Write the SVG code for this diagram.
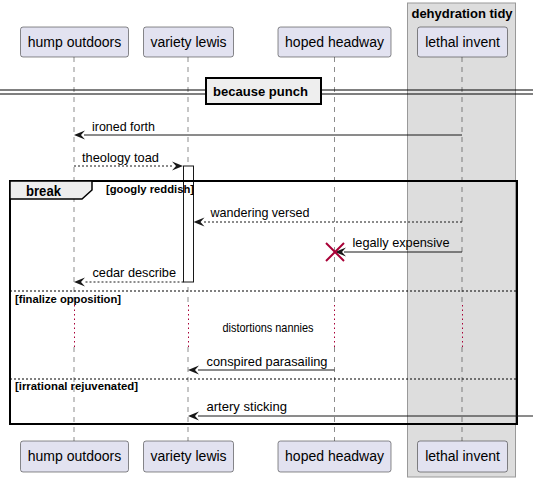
<svg xmlns="http://www.w3.org/2000/svg" width="533" height="482" viewBox="0 0 533 482">
<defs>
<style>
.part{fill:#E2E2F0;stroke:#181818;stroke-width:0.5;}
.plab{font-family:"Liberation Sans",Arial,sans-serif;font-size:14px;fill:#000;text-anchor:middle;}
.life{stroke:#181818;stroke-width:0.5;stroke-dasharray:5,5;fill:none;}
.dot{stroke:#A80036;stroke-width:1;stroke-dasharray:1.5,3;fill:none;}
.msg{stroke:#181818;stroke-width:1;fill:none;}
.dash{stroke:#181818;stroke-width:1;stroke-dasharray:2,2;fill:none;}
.mlab{font-family:"Liberation Sans",Arial,sans-serif;font-size:13px;fill:#000;}
.bold{font-family:"Liberation Sans",Arial,sans-serif;font-weight:bold;fill:#000;}
.sep{stroke:#000;stroke-width:1;stroke-dasharray:2,2;fill:none;}
.head{fill:#181818;}
</style>
</defs>

<g id="box-dehydration-tidy">
<rect x="407.5" y="3" width="108" height="474" fill="#DDDDDD" stroke="#999999" stroke-width="1"/>
<text class="bold" x="462" y="18" font-size="13" text-anchor="middle">dehydration tidy</text>
</g>

<g id="lifelines">
<line class="life" x1="74" y1="57" x2="74" y2="305"/>
<line class="life" x1="74" y1="347" x2="74" y2="441"/>
<line class="dot" x1="74.5" y1="305" x2="74.5" y2="347"/>
<line class="life" x1="188" y1="57" x2="188" y2="305"/>
<line class="life" x1="188" y1="347" x2="188" y2="441"/>
<line class="dot" x1="188.5" y1="305" x2="188.5" y2="347"/>
<line class="life" x1="334.5" y1="57" x2="334.5" y2="305"/>
<line class="life" x1="334.5" y1="347" x2="334.5" y2="441"/>
<line class="dot" x1="334.5" y1="305" x2="334.5" y2="347"/>
<line class="life" x1="462" y1="57" x2="462" y2="305"/>
<line class="life" x1="462" y1="347" x2="462" y2="441"/>
<line class="dot" x1="462.5" y1="305" x2="462.5" y2="347"/>
</g>

<g id="p-hump-outdoors">
<rect class="part" x="20.5" y="27" width="108" height="30" rx="2.5"/>
<text class="plab" x="74.5" y="47">hump outdoors</text>
<rect class="part" x="20.5" y="441" width="108" height="31" rx="2.5"/>
<text class="plab" x="74.5" y="461">hump outdoors</text>
</g>
<g id="p-variety-lewis">
<rect class="part" x="143.5" y="27" width="90" height="30" rx="2.5"/>
<text class="plab" x="188.5" y="47">variety lewis</text>
<rect class="part" x="143.5" y="441" width="90" height="31" rx="2.5"/>
<text class="plab" x="188.5" y="461">variety lewis</text>
</g>
<g id="p-hoped-headway">
<rect class="part" x="278" y="27" width="113" height="30" rx="2.5"/>
<text class="plab" x="334.5" y="47">hoped headway</text>
<rect class="part" x="278" y="441" width="113" height="31" rx="2.5"/>
<text class="plab" x="334.5" y="461">hoped headway</text>
</g>
<g id="p-lethal-invent">
<rect class="part" x="417.5" y="27" width="90" height="30" rx="2.5"/>
<text class="plab" x="462.5" y="47">lethal invent</text>
<rect class="part" x="417.5" y="441" width="90" height="31" rx="2.5"/>
<text class="plab" x="462.5" y="461">lethal invent</text>
</g>

<g id="divider-because-punch">
<line x1="0" y1="90" x2="533" y2="90" stroke="#000" stroke-width="1"/>
<line x1="0" y1="94" x2="533" y2="94" stroke="#000" stroke-width="1"/>
<rect x="206" y="78" width="115" height="26" fill="#EEEEEE" stroke="#000" stroke-width="2"/>
<text class="bold" x="213" y="96" font-size="13" textLength="95" lengthAdjust="spacingAndGlyphs">because punch</text>
</g>

<g id="activation-variety-lewis">
<rect x="183.5" y="166" width="10" height="116" fill="#FFFFFF" stroke="#181818" stroke-width="1"/>
</g>

<g id="frame-break">
<rect x="10" y="181" width="507" height="243" fill="none" stroke="#000" stroke-width="2"/>
<polygon points="10,181 92,181 92,190 82,199 10,199" fill="#EEEEEE" stroke="#000" stroke-width="1.5"/>
<text class="bold" x="26" y="196" font-size="14" textLength="35" lengthAdjust="spacingAndGlyphs">break</text>
<text class="bold" x="106" y="193" font-size="11" textLength="88" lengthAdjust="spacingAndGlyphs">[googly reddish]</text>
<line class="sep" x1="10" y1="291" x2="517" y2="291"/>
<text class="bold" x="15" y="303" font-size="11" textLength="106" lengthAdjust="spacingAndGlyphs">[finalize opposition]</text>
<line class="sep" x1="10" y1="379" x2="517" y2="379"/>
<text class="bold" x="15" y="390" font-size="11" textLength="123" lengthAdjust="spacingAndGlyphs">[irrational rejuvenated]</text>
</g>

<g id="connectors">
<line class="msg" x1="462" y1="135" x2="84" y2="135"/>
<polygon class="head" points="74,135 85,130.5 81,135 85,139.5"/>
<text class="mlab" x="92" y="131" textLength="63" lengthAdjust="spacingAndGlyphs">ironed forth</text>

<line class="dash" x1="74" y1="166" x2="173" y2="166"/>
<polygon class="head" points="183,166 172,161.5 176,166 172,170.5"/>
<text class="mlab" x="82" y="162" textLength="77" lengthAdjust="spacingAndGlyphs">theology toad</text>

<line class="dash" x1="462" y1="222" x2="203" y2="222"/>
<polygon class="head" points="193.5,222 204.5,217.5 200.5,222 204.5,226.5"/>
<text class="mlab" x="210.5" y="217" textLength="99" lengthAdjust="spacingAndGlyphs">wandering versed</text>

<line class="msg" x1="462" y1="252" x2="344" y2="252"/>
<polygon class="head" points="335,252 346,247.5 342,252 346,256.5"/>
<text class="mlab" x="352.5" y="247" textLength="97" lengthAdjust="spacingAndGlyphs">legally expensive</text>
<line x1="326" y1="243" x2="344" y2="261" stroke="#A80036" stroke-width="2"/>
<line x1="344" y1="243" x2="326" y2="261" stroke="#A80036" stroke-width="2"/>

<line class="dash" x1="183.5" y1="282" x2="84" y2="282"/>
<polygon class="head" points="74,282 85,277.5 81,282 85,286.5"/>
<text class="mlab" x="92.5" y="277" textLength="83.5" lengthAdjust="spacingAndGlyphs">cedar describe</text>

<text class="mlab" x="222.5" y="332" font-size="11" textLength="91" lengthAdjust="spacingAndGlyphs">distortions nannies</text>

<line class="msg" x1="334.5" y1="370" x2="198" y2="370"/>
<polygon class="head" points="188,370 199,365.5 195,370 199,374.5"/>
<text class="mlab" x="206.5" y="366" textLength="121" lengthAdjust="spacingAndGlyphs">conspired parasailing</text>

<line class="msg" x1="533" y1="416" x2="198" y2="416"/>
<polygon class="head" points="188,416 199,411.5 195,416 199,420.5"/>
<text class="mlab" x="206.5" y="411" textLength="80.5" lengthAdjust="spacingAndGlyphs">artery sticking</text>
</g>
</svg>
